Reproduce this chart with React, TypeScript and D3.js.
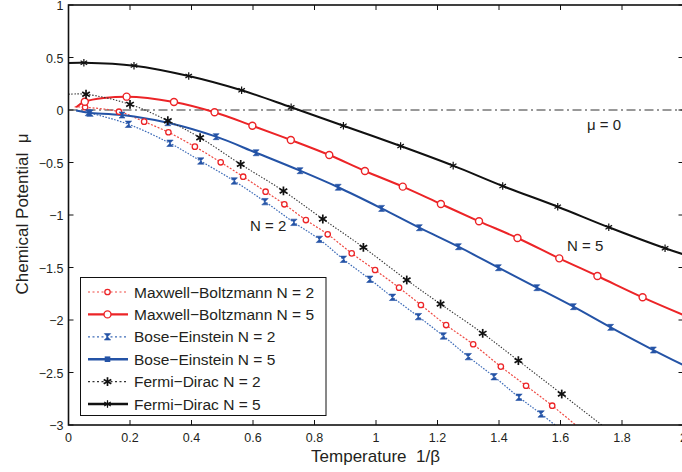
import React from "react";
import * as d3 from "d3";

type P = [number, number];

// x = temperature 1/β, y = chemical potential μ
const mb2: P[] = [[0.02, 0.03], [0.054, 0.026], [0.164, -0.016], [0.246, -0.111], [0.325, -0.212], [0.411, -0.349], [0.495, -0.498], [0.568, -0.635], [0.641, -0.778], [0.702, -0.898], [0.772, -1.048], [0.843, -1.184], [0.921, -1.365], [0.997, -1.524], [1.075, -1.692], [1.146, -1.857], [1.228, -2.048], [1.316, -2.231], [1.406, -2.444], [1.488, -2.626], [1.573, -2.816], [1.69, -3.1]];
const mb5: P[] = [[0.025, 0.026], [0.053, 0.079], [0.189, 0.127], [0.343, 0.076], [0.475, -0.022], [0.598, -0.15], [0.723, -0.286], [0.848, -0.429], [0.964, -0.581], [1.087, -0.73], [1.211, -0.895], [1.335, -1.06], [1.46, -1.219], [1.596, -1.413], [1.72, -1.581], [1.867, -1.784], [2.0, -1.952]];
const be2: P[] = [[0.025, -0.005], [0.07, -0.03], [0.195, -0.136], [0.33, -0.317], [0.43, -0.486], [0.539, -0.676], [0.639, -0.873], [0.733, -1.07], [0.816, -1.232], [0.894, -1.422], [0.98, -1.612], [1.054, -1.784], [1.138, -1.968], [1.219, -2.152], [1.3, -2.349], [1.384, -2.54], [1.465, -2.736], [1.537, -2.895], [1.62, -3.09]];
const be5: P[] = [[0.025, -0.005], [0.064, -0.026], [0.174, -0.048], [0.323, -0.121], [0.48, -0.254], [0.61, -0.407], [0.753, -0.578], [0.877, -0.736], [1.018, -0.937], [1.141, -1.121], [1.268, -1.302], [1.398, -1.502], [1.523, -1.692], [1.642, -1.873], [1.763, -2.07], [1.902, -2.286], [2.0, -2.43]];
const fd2: P[] = [[0.0, 0.15], [0.057, 0.15], [0.2, 0.054], [0.323, -0.102], [0.428, -0.264], [0.56, -0.517], [0.699, -0.771], [0.827, -1.038], [0.959, -1.308], [1.1, -1.619], [1.21, -1.848], [1.347, -2.127], [1.463, -2.387], [1.604, -2.705], [1.8, -3.15]];
const fd5: P[] = [[0.0, 0.448], [0.05, 0.45], [0.213, 0.422], [0.391, 0.324], [0.563, 0.188], [0.724, 0.026], [0.894, -0.15], [1.08, -0.343], [1.251, -0.53], [1.412, -0.724], [1.591, -0.921], [1.757, -1.117], [1.94, -1.317], [2.0, -1.375]];

const xTicks = [0, 0.2, 0.4, 0.6, 0.8, 1, 1.2, 1.4, 1.6, 1.8, 2];
const yTicks = [1, 0.5, 0, -0.5, -1, -1.5, -2, -2.5, -3];

const legendLabels = [
  "Maxwell\u2212Boltzmann N = 2",
  "Maxwell\u2212Boltzmann N = 5",
  "Bose\u2212Einstein N = 2",
  "Bose\u2212Einstein N = 5",
  "Fermi\u2212Dirac N = 2",
  "Fermi\u2212Dirac N = 5",
];

const RED = "#ec2427";
const RED_L = "#ef4a43";
const BLUE = "#2453a6";
const BLUE_L = "#3e6cb8";
const BLACK = "#111";
const TXT = "#231f20";
const FONT = "'Liberation Sans', Arial, sans-serif";

type Series = {
  data: P[];
  color: string;
  width: number;
  dash?: string;
  marker: "circleS" | "circleL" | "hour" | "square" | "star" | "starS";
};

const series: Series[] = [
  { data: mb2, color: RED_L, width: 1.2, dash: "2,1.6", marker: "circleS" },
  { data: mb5, color: RED, width: 2, marker: "circleL" },
  { data: be2, color: BLUE_L, width: 1.2, dash: "1.6,1.4", marker: "hour" },
  { data: be5, color: BLUE, width: 2, marker: "square" },
  { data: fd2, color: "#333", width: 1.1, dash: "1.4,1.6", marker: "star" },
  { data: fd5, color: BLACK, width: 2, marker: "starS" },
];

function Marker({ kind, x, y, legend }: { kind: Series["marker"]; x: number; y: number; legend?: boolean }) {
  if (kind === "circleS") return <circle cx={x} cy={y} r={2.7} fill="#fff" stroke={RED} strokeWidth={1.3} />;
  if (kind === "circleL") return <circle cx={x} cy={y} r={3.5} fill="#fff" stroke={RED} strokeWidth={1.4} />;
  if (kind === "hour" || (kind === "square" && !legend)) {
    const s = kind === "hour" ? 3.2 : 3.0;
    return (
      <path
        d={`M${x - s},${y - s}L${x + s},${y - s}L${x},${y}L${x + s},${y + s}L${x - s},${y + s}L${x},${y}Z`}
        fill={BLUE}
        stroke={BLUE}
        strokeWidth={0.6}
      />
    );
  }
  if (kind === "square") return <rect x={x - 2.8} y={y - 2.8} width={5.6} height={5.6} fill={BLUE} />;
  const s = kind === "star" ? 4.4 : 3.8;
  const w = kind === "star" ? 1.7 : 1.2;
  const arms = [90, 30, -30];
  return (
    <g stroke={BLACK} strokeWidth={w}>
      {arms.map((a) => {
        const r = (a * Math.PI) / 180;
        return <line key={a} x1={x - s * Math.cos(r)} y1={y - s * Math.sin(r)} x2={x + s * Math.cos(r)} y2={y + s * Math.sin(r)} />;
      })}
    </g>
  );
}

export default function App() {
  const W = 682;
  const H = 472;
  const x = d3.scaleLinear().domain([0, 2]).range([68.5, 683.5]);
  const y = d3.scaleLinear().domain([-3, 1]).range([425, 5]);
  const line = d3
    .line<P>()
    .x((d) => x(d[0]))
    .y((d) => y(d[1]))
    .curve(d3.curveCatmullRom.alpha(0.5));

  const [x0, x1] = x.range();
  const [yb, yt] = y.range();

  return (
    <svg width={W} height={H} style={{ position: "absolute", left: 0, top: 0, background: "#fff" }} fontFamily={FONT}>
      <defs>
        <clipPath id="plot">
          <rect x={x0} y={yt} width={x1 - x0} height={yb - yt} />
        </clipPath>
      </defs>
      <rect x={0} y={0} width={W} height={H} fill="#fff" />

      {/* mu = 0 reference line */}
      <line x1={x(0)} x2={x(2)} y1={y(0)} y2={y(0)} stroke="#333" strokeWidth={1} strokeDasharray="9,3.5,2,3.5" />

      <g clipPath="url(#plot)">
        {series.map((s, i) => (
          <path key={i} d={line(s.data) || ""} fill="none" stroke={s.color} strokeWidth={s.width} strokeDasharray={s.dash} />
        ))}
        {series.map((s, i) =>
          s.data.slice(1, -1).map((d, j) => <Marker key={`${i}-${j}`} kind={s.marker} x={x(d[0])} y={y(d[1])} />)
        )}
      </g>

      {/* axes frame */}
      <rect x={x0} y={yt} width={x1 - x0} height={yb - yt} fill="none" stroke="#111" strokeWidth={1.6} />
      {xTicks.map((t) => (
        <g key={`xt${t}`}>
          <line x1={x(t)} x2={x(t)} y1={yb} y2={yb - 5} stroke="#111" strokeWidth={1} />
          <line x1={x(t)} x2={x(t)} y1={yt} y2={yt + 5} stroke="#111" strokeWidth={1} />
          <text x={x(t)} y={441.5} textAnchor="middle" fontSize={12.5} fill={TXT}>
            {d3.format("~g")(t)}
          </text>
        </g>
      ))}
      {yTicks.map((t) => (
        <g key={`yt${t}`}>
          <line x1={x0} x2={x0 + 5} y1={y(t)} y2={y(t)} stroke="#111" strokeWidth={1} />
          <line x1={x1} x2={x1 - 5} y1={y(t)} y2={y(t)} stroke="#111" strokeWidth={1} />
          <text x={63.5} y={y(t) + 5} textAnchor="end" fontSize={12.5} fill={TXT}>
            {t < 0 ? "\u2212" + d3.format("~g")(-t) : d3.format("~g")(t)}
          </text>
        </g>
      ))}

      {/* axis titles */}
      <text x={375.5} y={461.5} textAnchor="middle" fontSize={17} fill={TXT}>
        Temperature {"\u00a0"}1/β
      </text>
      <text transform="translate(28,214) rotate(-90)" textAnchor="middle" fontSize={17} fill={TXT}>
        Chemical Potential {"\u00a0"}μ
      </text>

      {/* annotations */}
      <text x={250} y={231} fontSize={15} fill={TXT}>N = 2</text>
      <text x={567} y={251} fontSize={15} fill={TXT}>N = 5</text>
      <text x={587} y={129.5} fontSize={15} fill={TXT}>μ = 0</text>

      {/* legend */}
      <rect x={80.5} y={277.5} width={245.5} height={138} fill="#fff" stroke="#111" strokeWidth={1} />
      {series.map((s, i) => {
        const cy = 292 + i * 22.4;
        return (
          <g key={`lg${i}`}>
            <line x1={88} x2={128} y1={cy} y2={cy} stroke={s.color} strokeWidth={s.width === 2 ? 2.4 : s.width} strokeDasharray={s.dash ? "2,2.5" : undefined} />
            <Marker kind={s.marker} x={107.5} y={cy} legend />
            <text x={134} y={cy + 5.5} fontSize={15.5} fill={TXT}>
              {legendLabels[i]}
            </text>
          </g>
        );
      })}
    </svg>
  );
}
